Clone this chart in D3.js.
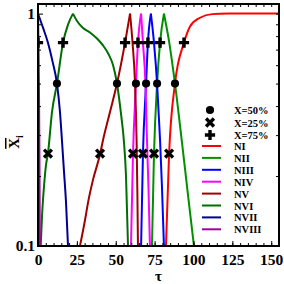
<!DOCTYPE html>
<html>
<head>
<meta charset="utf-8">
<script src="https://cdn.jsdelivr.net/npm/d3@7"></script>
<style>
body { margin: 0; background: #fff; }
text { font-family: "Liberation Serif", "Times New Roman", serif; font-weight: bold; }
</style>
</head>
<body>
<script>
// species curves, [tau, X] pairs
var NI    = [[82.3,0.1],[84.3,0.248],[88.1,0.5],[93.9,0.75],[97.8,0.88],[104.2,0.96],[111.9,0.995],[123.5,1.0],[155,1.0]];
var NII   = [[73.3,0.1],[74.6,0.248],[76.6,0.5],[78.5,0.75],[81.0,1.0],[84.3,0.76],[88.1,0.5],[92.6,0.279],[96.5,0.165],[100.3,0.1]];
var NIII  = [[66.3,0.1],[67.5,0.248],[69.5,0.5],[70.7,0.75],[72.6,1.0],[74.6,0.75],[76.6,0.5],[78.5,0.285],[79.7,0.182],[81.0,0.1]];
var NIV   = [[59.8,0.1],[61.1,0.248],[63.0,0.5],[64.3,0.75],[66.3,1.0],[67.5,0.75],[69.1,0.5],[70.1,0.285],[71.1,0.173],[72.0,0.1]];
var NV    = [[27.0,0.1],[30.3,0.13],[32.2,0.154],[35.4,0.193],[39.9,0.248],[41.8,0.285],[46.3,0.377],[50.8,0.5],[56.0,0.75],[59.2,1.0],
             [60.8,0.75],[62.4,0.5],[63.4,0.285],[63.9,0.173],[64.3,0.1]];
var NVI   = [[1.75,0.1],[2.6,0.135],[3.9,0.182],[5.1,0.222],[6.4,0.25],[9.0,0.377],[12.2,0.5],[16.1,0.75],[19.3,0.897],[22.5,1.0],
             [25.1,0.93],[28.8,0.87],[33.4,0.83],[38.1,0.78],[41.8,0.73],[45.3,0.67],[48.3,0.6],[50.8,0.5],[53.4,0.37],[55.3,0.28],[56.6,0.2],[57.9,0.1]];
var NVII  = [[0,1.0],[3.2,0.87],[6.4,0.75],[9.4,0.62],[12.2,0.5],[14.1,0.38],[15.4,0.285],[16.7,0.21],[18.0,0.155],[19.3,0.1]];
var NVIII = [[0,1.0],[0.3,0.75],[0.6,0.5],[0.9,0.25],[1.2,0.1]];

var names  = ["NI","NII","NIII","NIV","NV","NVI","NVII","NVIII"];
var colors = ["#ff0000","#009000","#0000ff","#ff00ff","#a00000","#006e00","#000090","#a000a0"];
var series = [NI, NII, NIII, NIV, NV, NVI, NVII, NVIII];

// conversion markers (tau where each species passes the level)
var tau50 = [12.2, 50.8, 63.0, 69.5, 76.6, 88.1];
var tau25 = [6.4, 39.9, 61.1, 67.5, 74.6, 84.3];
var tau75 = [0, 16.1, 56.0, 64.3, 70.7, 78.5, 93.9];
var markLabels = ["X=50%","X=25%","X=75%"];

var xTicks = [0, 25, 50, 75, 100, 125, 150];
var yTicks = [0.1, 1];

var W = 284, H = 284;
var margin = {top: 4, right: 5, bottom: 38, left: 38};
var width = W - margin.left - margin.right,
    height = H - margin.top - margin.bottom;

var x = d3.scaleLinear().domain([0, 155]).range([0, width]);
var y = d3.scaleLog().domain([0.1, 1.1]).range([height, 0]);

var svg = d3.select("body").append("svg")
    .attr("width", W).attr("height", H);

svg.append("defs").append("clipPath").attr("id", "clip")
  .append("rect").attr("width", width).attr("height", height);

var g = svg.append("g")
    .attr("transform", "translate(" + margin.left + "," + margin.top + ")");

var line = d3.line()
    .x(function(d) { return x(d[0]); })
    .y(function(d) { return y(d[1]); })
    .curve(d3.curveMonotoneX);

var plot = g.append("g").attr("clip-path", "url(#clip)");

// split each curve at its peak so the tips stay sharp
series.forEach(function(s, i) {
  var k = d3.maxIndex(s, function(d) { return d[1]; });
  [s.slice(0, k + 1), s.slice(k)].forEach(function(part) {
    if (part.length < 2) return;
    plot.append("path")
      .datum(part)
      .attr("fill", "none")
      .attr("stroke", colors[i])
      .attr("stroke-width", 2)
      .attr("d", line);
  });
});

// markers
var sym = {
  circle: d3.symbol().type(d3.symbolCircle).size(52),
  cross: d3.symbol().type(d3.symbolX).size(42),
  plus: d3.symbol().type(d3.symbolCross).size(58)
};
function drawMark(sel, type) {
  if (type == "circle") sel.attr("d", sym.circle()).attr("fill", "#000");
  else if (type == "cross") sel.attr("d", sym.cross()).attr("fill", "none").attr("stroke", "#000").attr("stroke-width", 3.4);
  else sel.attr("d", sym.plus()).attr("fill", "#000");
}
[[tau50, 0.5, "circle"], [tau25, 0.25, "cross"], [tau75, 0.75, "plus"]].forEach(function(m) {
  plot.selectAll(null).data(m[0]).enter().append("path")
    .attr("transform", function(d) { return "translate(" + x(d) + "," + y(m[1]) + ")"; })
    .call(drawMark, m[2]);
});

// axes, ticks inward
var xMinor = d3.range(0, 156, 5);
var yMinor = [0.2,0.3,0.4,0.5,0.6,0.7,0.8,0.9];

g.append("g").attr("transform", "translate(0," + height + ")")
  .call(d3.axisBottom(x).tickValues(xTicks).tickSize(-5).tickPadding(8).tickFormat(d3.format("d")))
  .call(function(a) { a.select(".domain").remove(); a.selectAll("text").attr("font-size", 15.5).attr("fill", "#000"); });
g.append("g")
  .call(d3.axisBottom(x).tickValues(xMinor).tickSize(3).tickFormat(""))
  .call(function(a) { a.select(".domain").remove(); });
g.append("g").attr("transform", "translate(0," + height + ")")
  .call(d3.axisBottom(x).tickValues(xMinor).tickSize(-3).tickFormat(""))
  .call(function(a) { a.select(".domain").remove(); });

g.append("g")
  .call(d3.axisLeft(y).tickValues(yTicks).tickSize(-5).tickPadding(3).tickFormat(function(d) { return d == 1 ? "1" : "0.1"; }))
  .call(function(a) { a.select(".domain").remove(); a.selectAll("text").attr("font-size", 15.5).attr("fill", "#000"); });
g.append("g")
  .call(d3.axisLeft(y).tickValues(yMinor).tickSize(-3).tickFormat(""))
  .call(function(a) { a.select(".domain").remove(); });
g.append("g").attr("transform", "translate(" + width + ",0)")
  .call(d3.axisRight(y).tickValues(yMinor.concat(yTicks)).tickSize(-3).tickFormat(""))
  .call(function(a) { a.select(".domain").remove(); });

g.append("rect")
  .attr("width", width).attr("height", height)
  .attr("fill", "none").attr("stroke", "#000").attr("stroke-width", 2);

// axis titles
g.append("text")
  .attr("x", x(77.5)).attr("y", height + 35)
  .attr("text-anchor", "middle").attr("font-size", 15)
  .text("τ");

var yl = svg.append("text")
  .attr("transform", "translate(19,142) rotate(-90)")
  .attr("text-anchor", "middle").attr("font-size", 15);
yl.append("tspan").attr("text-decoration", "overline").text("X");
yl.append("tspan").attr("font-size", 10).attr("dy", 4).text("i");

// legend
var leg = g.append("g");
["circle", "cross", "plus"].forEach(function(t, i) {
  var yy = 106 + i * 12.5;
  leg.append("path").attr("transform", "translate(" + 172 + "," + yy + ")").call(drawMark, t);
  leg.append("text").attr("x", 196).attr("y", yy + 4).attr("font-size", 10.5).text(markLabels[i]);
});
names.forEach(function(n, i) {
  var yy = 142 + i * 11.9;
  leg.append("line").attr("x1", 164).attr("x2", 183).attr("y1", yy).attr("y2", yy)
    .attr("stroke", colors[i]).attr("stroke-width", 2);
  leg.append("text").attr("x", 196).attr("y", yy + 4).attr("font-size", 10.5).text(n);
});
</script>
</body>
</html>
